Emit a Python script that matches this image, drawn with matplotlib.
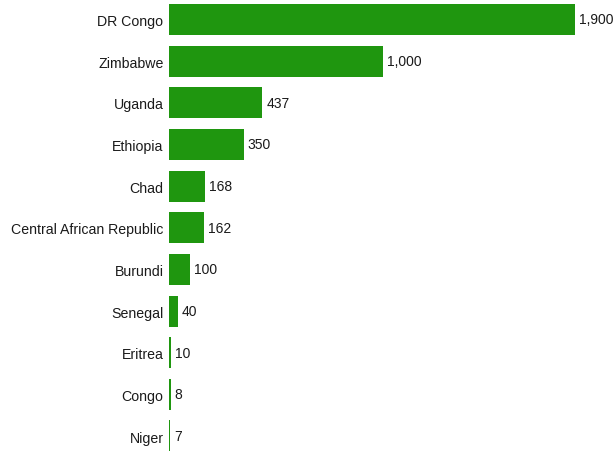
import matplotlib
matplotlib.use("Agg")
import matplotlib.pyplot as plt

countries = ["DR Congo", "Zimbabwe", "Uganda", "Ethiopia", "Chad",
             "Central African Republic", "Burundi", "Senegal", "Eritrea",
             "Congo", "Niger"]
values = [1900, 1000, 437, 350, 168, 162, 100, 40, 10, 8, 7]
value_labels = ["1,900", "1,000", "437", "350", "168", "162", "100", "40",
                "10", "8", "7"]

plt.rcParams["font.family"] = ["Liberation Sans", "DejaVu Sans"]

fig = plt.figure(figsize=(6.13, 4.52), dpi=100)
ax = fig.add_axes([169 / 613, 0, (575 - 169) / 613, 1])

pos = list(range(len(countries)))
ax.barh(pos, values, height=0.745, color="#1f960f")

ax.set_xlim(0, 1900)
ax.set_ylim(10.36, -0.49)

for p, v, lab in zip(pos, values, value_labels):
    ax.annotate(lab, (v, p), xytext=(2.8, 0), textcoords="offset points",
                va="center", ha="left", fontsize=10, color="#1a1a1a",
                annotation_clip=False)

ax.set_yticks(pos)
ax.set_yticklabels(countries, fontsize=10.2, color="#1a1a1a")
ax.tick_params(axis="y", length=0, pad=4)
ax.set_xticks([])
for s in ax.spines.values():
    s.set_visible(False)

fig.savefig("out.png", dpi=100)
